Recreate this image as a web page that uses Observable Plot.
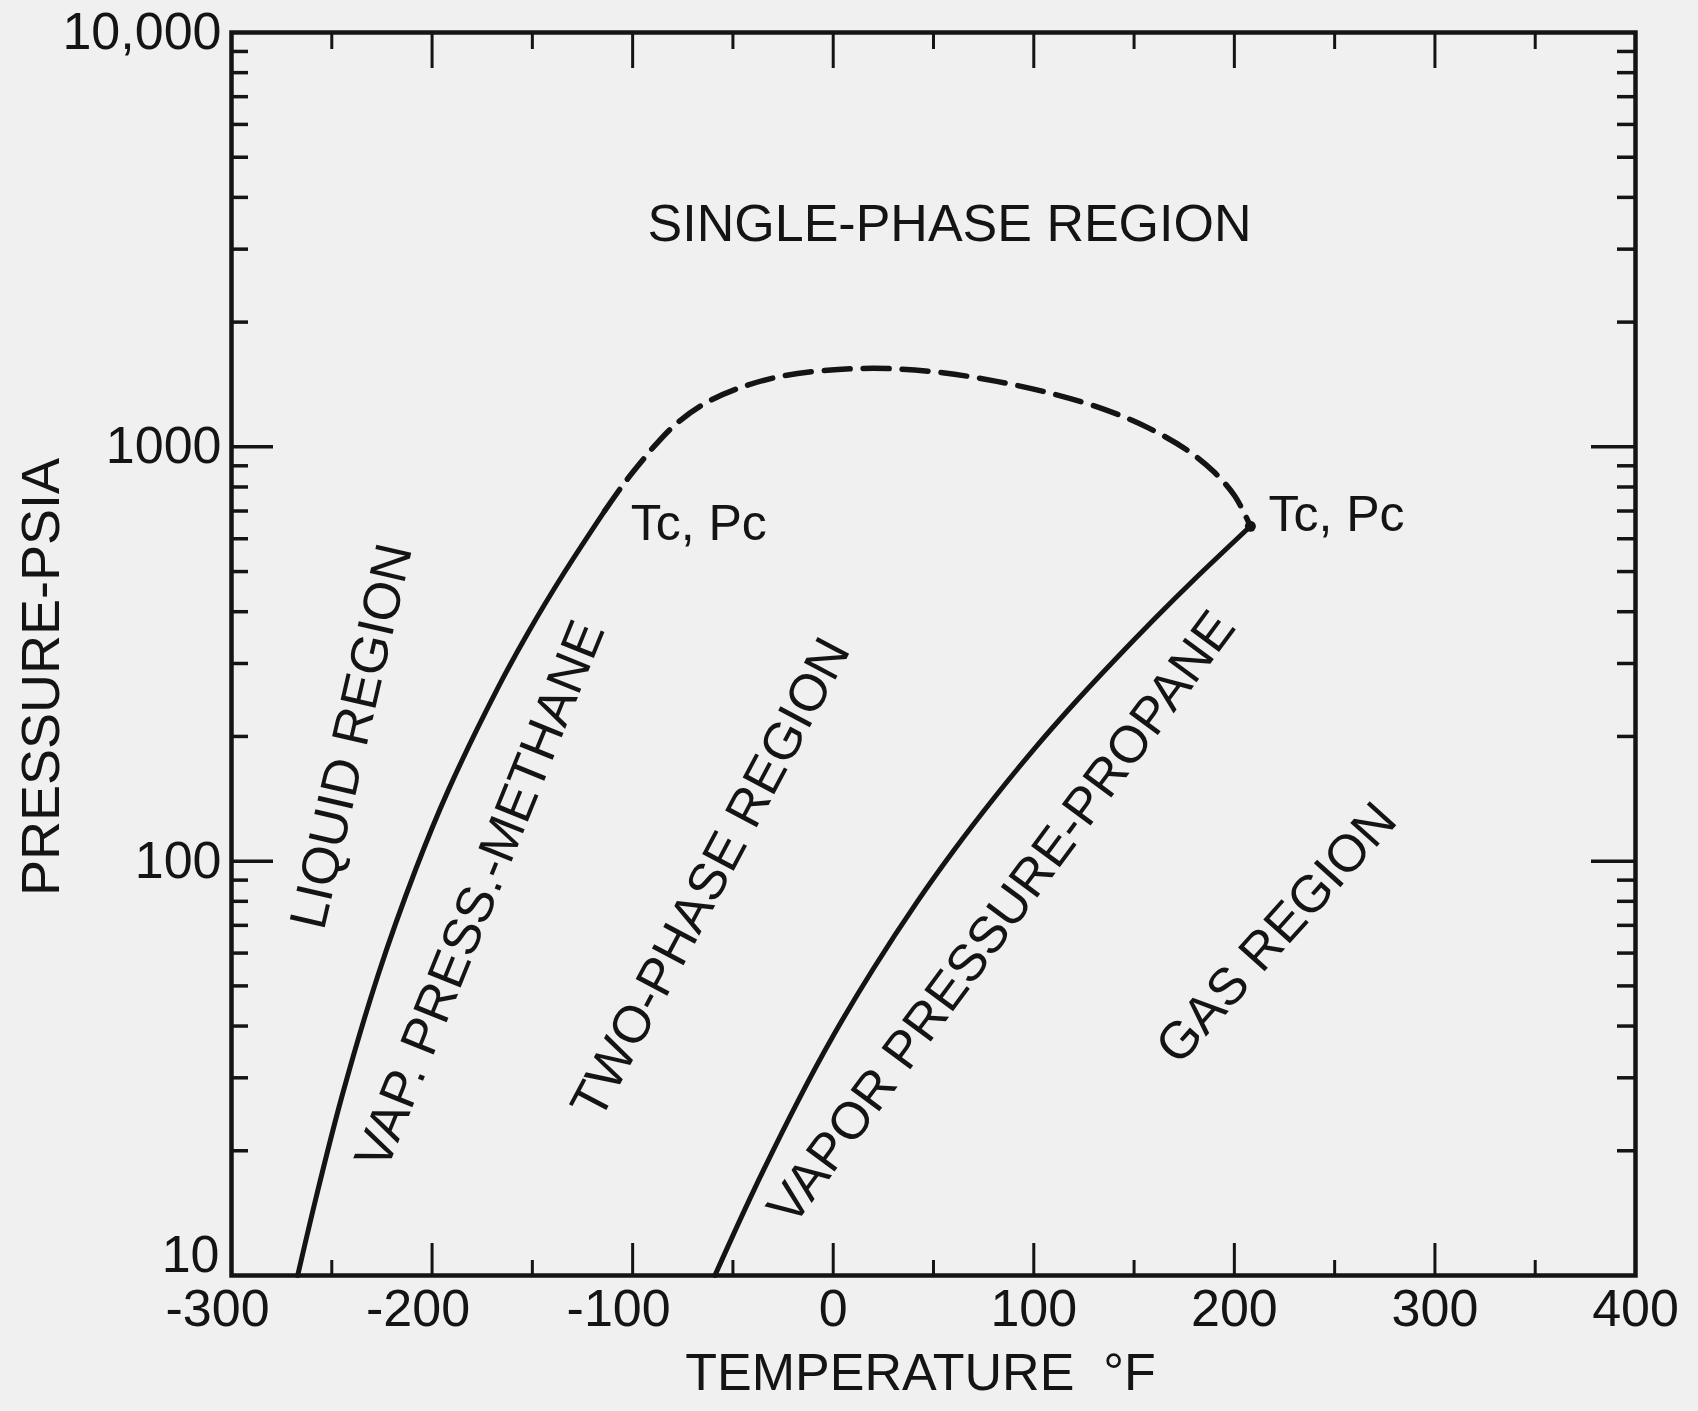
<!DOCTYPE html>
<html>
<head>
<meta charset="utf-8">
<script src="https://cdn.jsdelivr.net/npm/d3@7"></script>
<script src="https://cdn.jsdelivr.net/npm/@observablehq/plot@0.6"></script>
<style>
  html, body { margin: 0; padding: 0; background: #f0f0f0; }
  #chart svg { display: block; }
</style>
</head>
<body>
<div id="chart"></div>
<script>
// ---- data ----
const methaneT = [-267, -258, -245, -227, -208, -192, -167, -152, -134, -114];
const methaneP = [10, 15.3, 27, 53, 96, 148, 263, 357, 498, 700];

const propaneT = [-59, -40, -17, 0, 20, 42, 60, 80, 101, 120, 140, 160, 180, 208];
const propaneP = [10, 15.9, 26.7, 37.9, 55.0, 80.0, 106, 141.7, 188.5, 239.8, 304.6, 383.5, 478.3, 643];

const envelopeT = [-114, -104.6, -96.5, -88.4, -77.7, -64.2, -48, -26.4, 0.6, 27.5, 54.6, 81.5, 108.5, 135.5, 157.1, 176, 189.5, 200.3, 208];
const envelopeP = [700, 812, 910, 1014, 1143, 1271, 1380, 1479, 1535, 1545, 1509, 1439, 1346, 1230, 1111, 985, 873, 760, 643];

const xTickValues = [-300, -200, -100, 0, 100, 200, 300, 400];
const xTickLabels = ["-300", "-200", "-100", "0", "100", "200", "300", "400"];
const xMajor = [-200, -100, 0, 100, 200, 300];
const xMinor = [-250, -150, -50, 50, 150, 250, 350];

const yTickValues = [100, 1000, 10000];
const yTickLabels = ["100", "1000", "10,000"];
const yBottomValue = [10];
const yBottomLabel = ["10"];
const yMajor = [100, 1000];
const yMinor = [20, 30, 40, 50, 60, 70, 80, 90, 200, 300, 400, 500, 600, 700, 800, 900,
                2000, 3000, 4000, 5000, 6000, 7000, 8000, 9000];

const regionText  = ["LIQUID REGION", "VAP. PRESS.-METHANE", "TWO-PHASE REGION", "VAPOR PRESSURE-PROPANE", "GAS REGION"];
const regionT     = [-240, -176, -61, 84, 221];
const regionP     = [200, 83, 91, 73, 67];
const regionAngle = [-77, -68, -62, -53.5, -48];

const topText = ["SINGLE-PHASE REGION"];
const topT = [58];
const topP = [3444];

const critText = ["Tc, Pc", "Tc, Pc"];
const critT = [-101, 217];
const critP = [653, 686];

// ---- build tables ----
const methane = methaneT.map((t, i) => ({T: t, P: methaneP[i]}));
const propane = propaneT.map((t, i) => ({T: t, P: propaneP[i]}));
const envelope = envelopeT.map((t, i) => ({T: t, P: envelopeP[i]}));
const regions = regionText.map((s, i) => ({s, T: regionT[i], P: regionP[i], a: regionAngle[i]}));
const tops = topText.map((s, i) => ({s, T: topT[i], P: topP[i]}));
const crits = critText.map((s, i) => ({s, T: critT[i], P: critP[i]}));
const xt = xTickValues.map((v, i) => ({v, s: xTickLabels[i]}));
const yt = yTickValues.map((v, i) => ({v, s: yTickLabels[i]}));
const yb = yBottomValue.map((v, i) => ({v, s: yBottomLabel[i]}));
const junction = [propane[propane.length - 1]];

const W = 1698, H = 1411;
const mL = 231, mR = 63, mT = 32, mB = 136;
const innerW = W - mL - mR, innerH = H - mT - mB;
const ink = "#141414";
const FONT = "'Liberation Sans', Arial, sans-serif";

const chart = Plot.plot({
  width: W, height: H,
  marginLeft: mL, marginRight: mR, marginTop: mT, marginBottom: mB,
  style: {background: "#f0f0f0", fontFamily: FONT, color: ink},
  x: {domain: [-300, 400], axis: null},
  y: {type: "log", domain: [10, 10000], axis: null},
  marks: [
    // ticks (inside the frame)
    Plot.ruleX(xMajor, {insetTop: innerH - 32, stroke: ink, strokeWidth: 3}),
    Plot.ruleX(xMinor, {insetTop: innerH - 15, stroke: ink, strokeWidth: 3}),
    Plot.ruleX(xMajor, {insetBottom: innerH - 36, stroke: ink, strokeWidth: 3}),
    Plot.ruleX(xMinor, {insetBottom: innerH - 17, stroke: ink, strokeWidth: 3}),
    Plot.ruleY(yMajor, {insetRight: innerW - 42, stroke: ink, strokeWidth: 3.5}),
    Plot.ruleY(yMinor, {insetRight: innerW - 17, stroke: ink, strokeWidth: 3.5}),
    Plot.ruleY(yMajor, {insetLeft: innerW - 44, stroke: ink, strokeWidth: 3.5}),
    Plot.ruleY(yMinor, {insetLeft: innerW - 18, stroke: ink, strokeWidth: 3.5}),
    Plot.frame({stroke: ink, strokeWidth: 4.5}),
    // curves
    Plot.line(methane, {x: "T", y: "P", curve: "catmull-rom", stroke: ink, strokeWidth: 5}),
    Plot.line(propane, {x: "T", y: "P", curve: "catmull-rom", stroke: ink, strokeWidth: 5}),
    Plot.line(envelope, {x: "T", y: "P", curve: "catmull-rom", stroke: ink, strokeWidth: 5.5, strokeDasharray: "26,13"}),
    Plot.dot(junction, {x: "T", y: "P", r: 5.5, fill: ink}),
    // tick labels
    Plot.text(xt, {filter: d => d.v < 0, x: "v", text: "s", frameAnchor: "bottom", textAnchor: "middle", dx: -14, dy: 50, fontSize: 52, fill: ink}),
    Plot.text(xt, {filter: d => d.v >= 0, x: "v", text: "s", frameAnchor: "bottom", textAnchor: "middle", dy: 50, fontSize: 52, fill: ink}),
    Plot.text(yt, {y: "v", text: "s", frameAnchor: "left", textAnchor: "end", dx: -10, fontSize: 52, fill: ink}),
    Plot.text(yb, {y: "v", text: "s", frameAnchor: "left", textAnchor: "end", dx: -12, dy: -20, fontSize: 52, fill: ink}),
    // axis titles
    Plot.text(["PRESSURE-PSIA"], {frameAnchor: "left", textAnchor: "middle", dx: -190, dy: 23, rotate: -90, fontSize: 54, fill: ink}),
    Plot.text(["TEMPERATURE  °F"], {frameAnchor: "bottom", textAnchor: "middle", dx: -13, dy: 114, fontSize: 52, fill: ink}),
    // annotations
    Plot.text(tops, {x: "T", y: "P", text: "s", fontSize: 52, fill: ink}),
    Plot.text(crits, {x: "T", y: "P", text: "s", textAnchor: "start", fontSize: 50, fill: ink}),
    Plot.text(regions, {x: "T", y: "P", text: "s", rotate: "a", fontSize: 52, fill: ink})
  ]
});
document.getElementById("chart").appendChild(chart);
</script>
</body>
</html>
